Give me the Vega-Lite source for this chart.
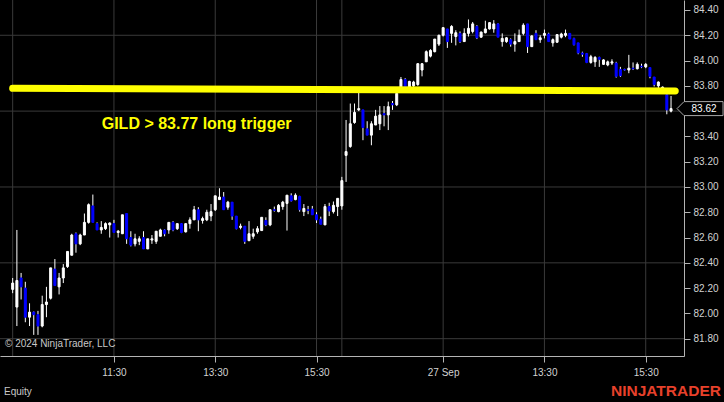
{
  "$schema": "https://vega.github.io/schema/vega-lite/v6.json",
  "width": 684,
  "height": 356,
  "autosize": {"type": "none"},
  "padding": {"left": 0, "top": 0, "right": 40, "bottom": 46},
  "background": "#000000",
  "view": {"stroke": null, "fill": "#000000"},
  "config": {
    "font": "Liberation Sans",
    "axis": {"title": null, "grid": false, "labelColor": "#d2d2d2", "labelFontSize": 10, "labelFont": "Liberation Sans", "tickColor": "#b4b4b4", "tickSize": 6, "domainColor": "#b4b4b4", "labelFlush": false, "labelOverlap": false},
    "axisX": {"labelPadding": 5},
    "axisY": {"labelPadding": 3}
  },
  "datasets": {
    "bars": [
      {"i":0,"o":82.19,"h":82.28,"l":82.16,"c":82.24},
      {"i":1,"o":82.05,"h":82.66,"l":81.90,"c":82.26},
      {"i":2,"o":82.28,"h":82.32,"l":82.11,"c":82.21},
      {"i":3,"o":82.20,"h":82.25,"l":81.93,"c":81.97},
      {"i":4,"o":81.97,"h":82.08,"l":81.90,"c":82.01},
      {"i":5,"o":82.01,"h":82.015,"l":81.83,"c":81.99},
      {"i":6,"o":81.99,"h":82.02,"l":81.83,"c":81.90},
      {"i":7,"o":81.90,"h":82.14,"l":81.89,"c":82.07},
      {"i":8,"o":82.07,"h":82.21,"l":81.97,"c":82.09},
      {"i":9,"o":82.12,"h":82.36,"l":82.11,"c":82.36},
      {"i":10,"o":82.35,"h":82.43,"l":82.22,"c":82.22},
      {"i":11,"o":82.21,"h":82.32,"l":82.15,"c":82.28},
      {"i":12,"o":82.28,"h":82.39,"l":82.24,"c":82.36},
      {"i":13,"o":82.37,"h":82.49,"l":82.36,"c":82.49},
      {"i":14,"o":82.46,"h":82.63,"l":82.46,"c":82.62},
      {"i":15,"o":82.63,"h":82.64,"l":82.48,"c":82.55},
      {"i":16,"o":82.55,"h":82.63,"l":82.54,"c":82.62},
      {"i":17,"o":82.62,"h":82.79,"l":82.62,"c":82.72},
      {"i":18,"o":82.72,"h":82.87,"l":82.71,"c":82.86},
      {"i":19,"o":82.85,"h":82.94,"l":82.72,"c":82.72},
      {"i":20,"o":82.71,"h":82.72,"l":82.66,"c":82.66},
      {"i":21,"o":82.66,"h":82.73,"l":82.63,"c":82.68},
      {"i":22,"o":82.67,"h":82.72,"l":82.66,"c":82.71},
      {"i":23,"o":82.70,"h":82.72,"l":82.60,"c":82.715},
      {"i":24,"o":82.71,"h":82.74,"l":82.64,"c":82.64},
      {"i":25,"o":82.64,"h":82.66,"l":82.60,"c":82.65},
      {"i":26,"o":82.63,"h":82.78,"l":82.63,"c":82.78},
      {"i":27,"o":82.79,"h":82.79,"l":82.55,"c":82.59},
      {"i":28,"o":82.60,"h":82.65,"l":82.53,"c":82.54},
      {"i":29,"o":82.55,"h":82.63,"l":82.53,"c":82.59},
      {"i":30,"o":82.57,"h":82.61,"l":82.54,"c":82.59},
      {"i":31,"o":82.60,"h":82.65,"l":82.51,"c":82.51},
      {"i":32,"o":82.51,"h":82.59,"l":82.51,"c":82.59},
      {"i":33,"o":82.58,"h":82.62,"l":82.55,"c":82.59},
      {"i":34,"o":82.57,"h":82.65,"l":82.55,"c":82.65},
      {"i":35,"o":82.61,"h":82.67,"l":82.61,"c":82.66},
      {"i":36,"o":82.66,"h":82.665,"l":82.61,"c":82.63},
      {"i":37,"o":82.66,"h":82.72,"l":82.63,"c":82.72},
      {"i":38,"o":82.72,"h":82.73,"l":82.65,"c":82.66},
      {"i":39,"o":82.67,"h":82.71,"l":82.66,"c":82.71},
      {"i":40,"o":82.71,"h":82.715,"l":82.635,"c":82.64},
      {"i":41,"o":82.645,"h":82.71,"l":82.64,"c":82.71},
      {"i":42,"o":82.71,"h":82.76,"l":82.67,"c":82.74},
      {"i":43,"o":82.74,"h":82.85,"l":82.74,"c":82.82},
      {"i":44,"o":82.82,"h":82.84,"l":82.65,"c":82.74},
      {"i":45,"o":82.735,"h":82.765,"l":82.71,"c":82.75},
      {"i":46,"o":82.74,"h":82.82,"l":82.73,"c":82.80},
      {"i":47,"o":82.77,"h":82.865,"l":82.73,"c":82.805},
      {"i":48,"o":82.82,"h":82.93,"l":82.81,"c":82.93},
      {"i":49,"o":82.90,"h":82.99,"l":82.90,"c":82.92},
      {"i":50,"o":82.92,"h":82.96,"l":82.82,"c":82.82},
      {"i":51,"o":82.84,"h":82.89,"l":82.82,"c":82.88},
      {"i":52,"o":82.88,"h":82.88,"l":82.74,"c":82.77},
      {"i":53,"o":82.77,"h":82.77,"l":82.665,"c":82.67},
      {"i":54,"o":82.68,"h":82.71,"l":82.665,"c":82.69},
      {"i":55,"o":82.69,"h":82.69,"l":82.55,"c":82.57},
      {"i":56,"o":82.575,"h":82.73,"l":82.575,"c":82.63},
      {"i":57,"o":82.61,"h":82.67,"l":82.59,"c":82.63},
      {"i":58,"o":82.645,"h":82.69,"l":82.63,"c":82.67},
      {"i":59,"o":82.655,"h":82.76,"l":82.655,"c":82.76},
      {"i":60,"o":82.735,"h":82.76,"l":82.69,"c":82.70},
      {"i":61,"o":82.70,"h":82.82,"l":82.69,"c":82.82},
      {"i":62,"o":82.82,"h":82.845,"l":82.805,"c":82.815},
      {"i":63,"o":82.805,"h":82.865,"l":82.80,"c":82.855},
      {"i":64,"o":82.845,"h":82.89,"l":82.82,"c":82.88},
      {"i":65,"o":82.87,"h":82.935,"l":82.655,"c":82.935},
      {"i":66,"o":82.93,"h":82.95,"l":82.885,"c":82.89},
      {"i":67,"o":82.90,"h":82.95,"l":82.895,"c":82.935},
      {"i":68,"o":82.925,"h":82.93,"l":82.805,"c":82.82},
      {"i":69,"o":82.805,"h":82.865,"l":82.77,"c":82.83},
      {"i":70,"o":82.82,"h":82.85,"l":82.785,"c":82.815},
      {"i":71,"o":82.825,"h":82.85,"l":82.78,"c":82.78},
      {"i":72,"o":82.78,"h":82.80,"l":82.715,"c":82.74},
      {"i":73,"o":82.745,"h":82.765,"l":82.705,"c":82.705},
      {"i":74,"o":82.70,"h":82.865,"l":82.70,"c":82.845},
      {"i":75,"o":82.845,"h":82.875,"l":82.77,"c":82.81},
      {"i":76,"o":82.805,"h":82.885,"l":82.79,"c":82.855},
      {"i":77,"o":82.845,"h":82.91,"l":82.77,"c":82.91},
      {"i":78,"o":82.85,"h":83.08,"l":82.82,"c":83.05},
      {"i":79,"o":83.25,"h":83.53,"l":83.04,"c":83.28},
      {"i":80,"o":83.32,"h":83.66,"l":83.31,"c":83.50},
      {"i":81,"o":83.51,"h":83.66,"l":83.50,"c":83.59},
      {"i":82,"o":83.61,"h":83.75,"l":83.60,"c":83.62},
      {"i":83,"o":83.61,"h":83.61,"l":83.37,"c":83.47},
      {"i":84,"o":83.46,"h":83.52,"l":83.41,"c":83.41},
      {"i":85,"o":83.41,"h":83.52,"l":83.33,"c":83.50},
      {"i":86,"o":83.49,"h":83.61,"l":83.49,"c":83.56},
      {"i":87,"o":83.50,"h":83.64,"l":83.45,"c":83.57},
      {"i":88,"o":83.58,"h":83.64,"l":83.48,"c":83.57},
      {"i":89,"o":83.57,"h":83.675,"l":83.45,"c":83.635},
      {"i":90,"o":83.66,"h":83.68,"l":83.61,"c":83.65},
      {"i":91,"o":83.65,"h":83.76,"l":83.64,"c":83.74},
      {"i":92,"o":83.77,"h":83.87,"l":83.75,"c":83.85},
      {"i":93,"o":83.85,"h":83.86,"l":83.77,"c":83.79},
      {"i":94,"o":83.79,"h":83.84,"l":83.78,"c":83.835},
      {"i":95,"o":83.80,"h":83.84,"l":83.78,"c":83.83},
      {"i":96,"o":83.81,"h":83.98,"l":83.80,"c":83.975},
      {"i":97,"o":83.925,"h":83.98,"l":83.875,"c":83.975},
      {"i":98,"o":83.99,"h":84.08,"l":83.99,"c":84.07},
      {"i":99,"o":84.035,"h":84.09,"l":84.025,"c":84.08},
      {"i":100,"o":84.07,"h":84.17,"l":84.065,"c":84.17},
      {"i":101,"o":84.13,"h":84.205,"l":84.115,"c":84.20},
      {"i":102,"o":84.20,"h":84.265,"l":84.19,"c":84.26},
      {"i":103,"o":84.25,"h":84.25,"l":84.10,"c":84.15},
      {"i":104,"o":84.215,"h":84.28,"l":84.14,"c":84.27},
      {"i":105,"o":84.19,"h":84.24,"l":84.12,"c":84.22},
      {"i":106,"o":84.215,"h":84.23,"l":84.14,"c":84.15},
      {"i":107,"o":84.15,"h":84.255,"l":84.15,"c":84.215},
      {"i":108,"o":84.215,"h":84.325,"l":84.19,"c":84.255},
      {"i":109,"o":84.23,"h":84.305,"l":84.215,"c":84.29},
      {"i":110,"o":84.27,"h":84.28,"l":84.17,"c":84.18},
      {"i":111,"o":84.185,"h":84.23,"l":84.18,"c":84.225},
      {"i":112,"o":84.22,"h":84.315,"l":84.215,"c":84.25},
      {"i":113,"o":84.25,"h":84.305,"l":84.245,"c":84.30},
      {"i":114,"o":84.25,"h":84.32,"l":84.22,"c":84.29},
      {"i":115,"o":84.29,"h":84.295,"l":84.185,"c":84.185},
      {"i":116,"o":84.15,"h":84.215,"l":84.11,"c":84.175},
      {"i":117,"o":84.15,"h":84.185,"l":84.14,"c":84.18},
      {"i":118,"o":84.165,"h":84.175,"l":84.11,"c":84.13},
      {"i":119,"o":84.13,"h":84.215,"l":84.07,"c":84.15},
      {"i":120,"o":84.15,"h":84.245,"l":84.15,"c":84.20},
      {"i":121,"o":84.215,"h":84.295,"l":84.20,"c":84.28},
      {"i":122,"o":84.29,"h":84.29,"l":84.06,"c":84.11},
      {"i":123,"o":84.11,"h":84.20,"l":84.11,"c":84.195},
      {"i":124,"o":84.215,"h":84.24,"l":84.165,"c":84.165},
      {"i":125,"o":84.165,"h":84.20,"l":84.14,"c":84.18},
      {"i":126,"o":84.20,"h":84.245,"l":84.175,"c":84.215},
      {"i":127,"o":84.21,"h":84.22,"l":84.15,"c":84.15},
      {"i":128,"o":84.14,"h":84.175,"l":84.11,"c":84.165},
      {"i":129,"o":84.145,"h":84.21,"l":84.14,"c":84.205},
      {"i":130,"o":84.185,"h":84.22,"l":84.175,"c":84.21},
      {"i":131,"o":84.20,"h":84.245,"l":84.185,"c":84.215},
      {"i":132,"o":84.215,"h":84.215,"l":84.17,"c":84.17},
      {"i":133,"o":84.175,"h":84.18,"l":84.12,"c":84.125},
      {"i":134,"o":84.14,"h":84.14,"l":84.05,"c":84.06},
      {"i":135,"o":84.06,"h":84.07,"l":84.03,"c":84.05},
      {"i":136,"o":84.055,"h":84.06,"l":83.98,"c":83.985},
      {"i":137,"o":83.985,"h":84.045,"l":83.975,"c":84.03},
      {"i":138,"o":83.99,"h":84.035,"l":83.95,"c":84.025},
      {"i":139,"o":84.025,"h":84.03,"l":83.95,"c":84.01},
      {"i":140,"o":83.97,"h":84.01,"l":83.965,"c":84.005},
      {"i":141,"o":83.965,"h":84.00,"l":83.955,"c":83.99},
      {"i":142,"o":83.98,"h":84.01,"l":83.965,"c":83.99},
      {"i":143,"o":83.98,"h":83.99,"l":83.865,"c":83.875},
      {"i":144,"o":83.93,"h":83.95,"l":83.87,"c":83.88},
      {"i":145,"o":83.93,"h":83.935,"l":83.92,"c":83.925},
      {"i":146,"o":83.925,"h":84.045,"l":83.90,"c":83.94},
      {"i":147,"o":83.94,"h":83.985,"l":83.925,"c":83.935},
      {"i":148,"o":83.935,"h":83.985,"l":83.93,"c":83.97},
      {"i":149,"o":83.955,"h":83.975,"l":83.94,"c":83.95},
      {"i":150,"o":83.95,"h":83.98,"l":83.94,"c":83.97},
      {"i":151,"o":83.945,"h":83.945,"l":83.86,"c":83.875},
      {"i":152,"o":83.87,"h":83.87,"l":83.795,"c":83.81},
      {"i":153,"o":83.80,"h":83.835,"l":83.78,"c":83.83},
      {"i":154,"o":83.76,"h":83.795,"l":83.75,"c":83.79},
      {"i":155,"o":83.73,"h":83.75,"l":83.575,"c":83.61},
      {"i":156,"o":83.60,"h":83.72,"l":83.59,"c":83.62}
    ],
    "vgrid": [{"i": 0}, {"i": 24}, {"i": 48}, {"i": 72}, {"i": 78}, {"i": 102}, {"i": 126}, {"i": 150}],
    "hgrid": [{"p": 81.8}, {"p": 82.4}, {"p": 83.0}, {"p": 83.6}, {"p": 84.2}],
    "trigger": [{"i": 0, "p": 83.78}, {"i": 157, "p": 83.76}]
  },
  "layer": [
    {
      "data": {"name": "vgrid"},
      "mark": {"type": "rule", "color": "#3a3a3a", "strokeWidth": 1},
      "encoding": {
        "x": {"field": "i", "type": "quantitative", "title": null,
          "scale": {"domain": [-3.0, 159.07], "nice": false, "zero": false, "padding": 0},
          "axis": {"orient": "bottom", "values": [24, 48, 72, 102, 126, 150], "tickCount": 30, "labelOverlap": false,
            "labelExpr": "datum.value == 24 ? '11:30' : datum.value == 48 ? '13:30' : datum.value == 72 ? '15:30' : datum.value == 102 ? '27 Sep' : datum.value == 126 ? '13:30' : '15:30'"}}
      }
    },
    {
      "data": {"name": "hgrid"},
      "mark": {"type": "rule", "color": "#3a3a3a", "strokeWidth": 1},
      "encoding": {
        "y": {"field": "p", "type": "quantitative", "title": null,
          "scale": {"domain": [81.663, 84.479], "nice": false, "zero": false, "padding": 0},
          "axis": {"orient": "right", "values": [81.8, 82.0, 82.2, 82.4, 82.6, 82.8, 83.0, 83.2, 83.4, 83.8, 84.0, 84.2, 84.4], "tickCount": 30, "format": ".2f", "labelOverlap": false, "labelBound": false}}
      }
    },
    {
      "data": {"name": "bars"},
      "mark": {"type": "rule", "color": "#ffffff", "strokeWidth": 1},
      "encoding": {
        "x": {"field": "i", "type": "quantitative", "title": null,
          "scale": {"domain": [-3.0, 159.07], "nice": false, "zero": false, "padding": 0},
          "axis": {"orient": "bottom", "values": [24, 48, 72, 102, 126, 150], "tickCount": 30, "labelOverlap": false,
            "labelExpr": "datum.value == 24 ? '11:30' : datum.value == 48 ? '13:30' : datum.value == 72 ? '15:30' : datum.value == 102 ? '27 Sep' : datum.value == 126 ? '13:30' : '15:30'"}},
        "y": {"field": "l", "type": "quantitative", "title": null,
          "scale": {"domain": [81.663, 84.479], "nice": false, "zero": false, "padding": 0},
          "axis": {"orient": "right", "values": [81.8, 82.0, 82.2, 82.4, 82.6, 82.8, 83.0, 83.2, 83.4, 83.8, 84.0, 84.2, 84.4], "tickCount": 30, "format": ".2f", "labelOverlap": false, "labelBound": false}},
        "y2": {"field": "h"}
      }
    },
    {
      "data": {"name": "bars"},
      "mark": {"type": "bar", "size": 2, "strokeWidth": 1},
      "encoding": {
        "x": {"field": "i", "type": "quantitative", "title": null},
        "y": {"field": "o", "type": "quantitative", "title": null},
        "y2": {"field": "c"},
        "fill": {"condition": {"test": "datum.c < datum.o", "value": "#0000ff"}, "value": "#ffffff"},
        "stroke": {"condition": {"test": "datum.c < datum.o", "value": "#0000ff"}, "value": "#ffffff"}
      }
    },
    {
      "data": {"name": "trigger"},
      "mark": {"type": "line", "color": "#ffff00", "strokeWidth": 7, "strokeCap": "round"},
      "encoding": {
        "x": {"field": "i", "type": "quantitative", "title": null},
        "y": {"field": "p", "type": "quantitative", "title": null}
      }
    },
    {
      "data": {"values": [{"i": 21.1, "p": 83.498, "t": "GILD > 83.77 long trigger"}]},
      "mark": {"type": "text", "align": "left", "baseline": "middle", "font": "Liberation Sans", "fontSize": 16, "fontWeight": "bold", "color": "#ffff00", "clip": false},
      "encoding": {
        "x": {"field": "i", "type": "quantitative", "title": null},
        "y": {"field": "p", "type": "quantitative", "title": null},
        "text": {"field": "t"}
      }
    },
    {
      "data": {"values": [{"i": -1.82, "p": 81.758, "t": "© 2024 NinjaTrader, LLC"}, {"i": -2.06, "p": 81.378, "t": "Equity"}]},
      "mark": {"type": "text", "align": "left", "baseline": "middle", "font": "Liberation Sans", "fontSize": 10, "color": "#c8c8c8", "clip": false},
      "encoding": {
        "x": {"field": "i", "type": "quantitative", "title": null},
        "y": {"field": "p", "type": "quantitative", "title": null},
        "text": {"field": "t"}
      }
    },
    {
      "data": {"values": [{"i": 154.8, "p": 81.386, "t": "NINJATRADER"}]},
      "mark": {"type": "text", "align": "center", "baseline": "middle", "font": "Liberation Sans", "fontSize": 15.5, "fontWeight": "bold", "color": "#e8412b", "clip": false},
      "encoding": {
        "x": {"field": "i", "type": "quantitative", "title": null},
        "y": {"field": "p", "type": "quantitative", "title": null},
        "text": {"field": "t"}
      }
    },
    {
      "data": {"values": [{"i": 162.87, "p": 83.62, "t": "83.62"}]},
      "mark": {"type": "point", "shape": "M -1 0 L -0.696 -0.304 L 1 -0.304 L 1 0.304 L -0.696 0.304 Z", "size": 2116, "filled": true, "fill": "#000000", "stroke": "#a8a8a8", "strokeWidth": 1, "opacity": 1, "clip": false},
      "encoding": {
        "x": {"field": "i", "type": "quantitative", "title": null},
        "y": {"field": "p", "type": "quantitative", "title": null}
      }
    },
    {
      "data": {"values": [{"i": 162.87, "p": 83.62, "t": "83.62"}]},
      "mark": {"type": "text", "align": "center", "baseline": "middle", "font": "Liberation Sans", "fontSize": 10, "color": "#ffffff", "dx": 4, "clip": false},
      "encoding": {
        "x": {"field": "i", "type": "quantitative", "title": null},
        "y": {"field": "p", "type": "quantitative", "title": null},
        "text": {"field": "t"}
      }
    }
  ]
}
